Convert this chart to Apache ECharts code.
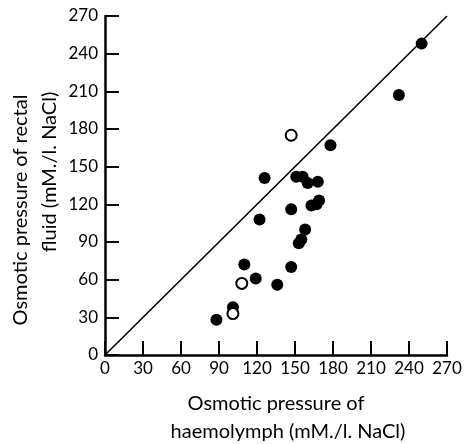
<!DOCTYPE html>
<html>
<head>
<meta charset="utf-8">
<script src="https://cdn.jsdelivr.net/npm/echarts@6/dist/echarts.min.js"></script>
<style>
  html, body { margin: 0; padding: 0; background: #fff; }
  #chart { width: 470px; height: 444px; }
</style>
</head>
<body>
<div id="chart"></div>
<script>
// Haemolymph vs rectal fluid osmotic pressure (mM./l. NaCl)
const axisTicks = [0, 30, 60, 90, 120, 150, 180, 210, 240, 270];

// Filled circles: [haemolymph, rectal fluid]
const filledHaemolymph = [88, 101, 110, 119, 136, 147, 153, 155, 158, 122, 147, 163, 167, 169, 126, 151, 156, 160, 168, 178, 232, 250];
const filledRectal     = [28, 38, 72, 61, 56, 70, 89, 92, 100, 108, 116, 119, 120, 123, 141, 142, 142, 137, 138, 167, 207, 248];

// Open circles
const openHaemolymph = [101, 108, 147];
const openRectal     = [33, 57, 175];

// Line of equal osmotic pressure
const equalityLine = [0, 270];

// Axis titles, one entry per printed line
const xTitle = ['Osmotic pressure of', 'haemolymph (mM./l. NaCl)'];
const yTitle = ['Osmotic pressure of rectal', 'fluid (mM./l. NaCl)'];

const pairs = (xs, ys) => xs.map((x, i) => [x, ys[i]]);

const fontFamily = 'Lato, "Open Sans", sans-serif';
const titleFont = '20px ' + fontFamily;

const axisCommon = {
  min: axisTicks[0], max: axisTicks[axisTicks.length - 1], interval: 30,
  axisLine: { lineStyle: { color: '#000', width: 2.5 } },
  axisTick: { inside: true, length: 14, lineStyle: { color: '#000', width: 2 } },
  splitLine: { show: false },
  axisLabel: { color: '#000', fontSize: 17, fontFamily: fontFamily }
};

const chart = echarts.init(document.getElementById('chart'));
chart.setOption({
  animation: false,
  backgroundColor: '#fff',
  grid: { left: 105, top: 16, right: 23, bottom: 89 },
  xAxis: Object.assign({}, axisCommon, {
    type: 'value',
    axisLabel: Object.assign({}, axisCommon.axisLabel, { margin: 5 })
  }),
  yAxis: Object.assign({}, axisCommon, {
    type: 'value',
    axisLabel: Object.assign({}, axisCommon.axisLabel, { margin: 7 })
  }),
  graphic: [
    { type: 'text', x: 276, y: 404, style: { text: xTitle[0], font: titleFont, fill: '#000', align: 'center', verticalAlign: 'middle' } },
    { type: 'text', x: 288, y: 432, style: { text: xTitle[1], font: titleFont, fill: '#000', align: 'center', verticalAlign: 'middle' } },
    { type: 'text', x: 21, y: 210, rotation: Math.PI / 2, style: { text: yTitle[0], font: titleFont, fill: '#000', align: 'center', verticalAlign: 'middle' } },
    { type: 'text', x: 50, y: 172, rotation: Math.PI / 2, style: { text: yTitle[1], font: titleFont, fill: '#000', align: 'center', verticalAlign: 'middle' } }
  ],
  series: [
    {
      type: 'line',
      data: equalityLine.map(v => [v, v]),
      showSymbol: false,
      lineStyle: { color: '#000', width: 1.6 },
      silent: true,
      z: 1
    },
    {
      type: 'scatter',
      data: pairs(filledHaemolymph, filledRectal),
      symbol: 'circle',
      symbolSize: 12,
      itemStyle: { color: '#000', opacity: 1 },
      z: 3
    },
    {
      type: 'scatter',
      data: pairs(openHaemolymph, openRectal),
      symbol: 'circle',
      symbolSize: 11,
      itemStyle: { color: '#fff', borderColor: '#000', borderWidth: 2, opacity: 1 },
      z: 4
    }
  ]
});
</script>
</body>
</html>
